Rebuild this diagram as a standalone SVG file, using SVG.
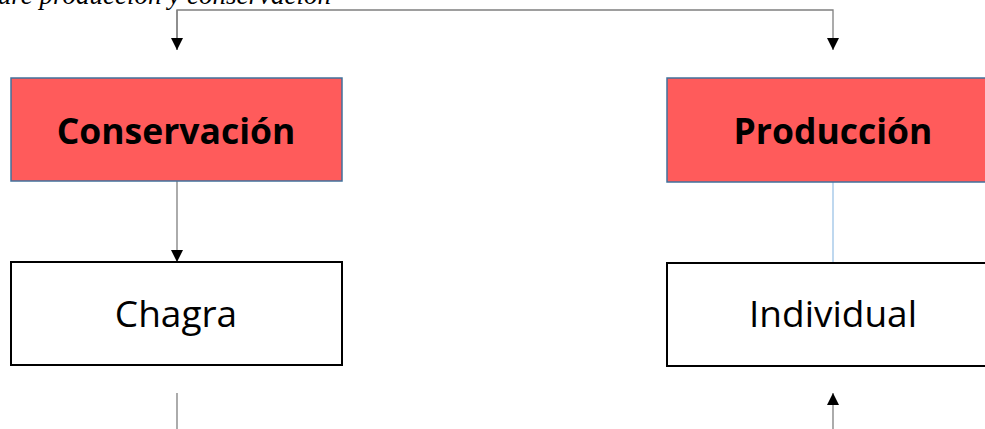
<svg xmlns="http://www.w3.org/2000/svg" width="985" height="429" viewBox="0 0 985 429">
<defs>
<marker id="ah" viewBox="0 0 10 10" refX="10" refY="5" markerWidth="12" markerHeight="12" markerUnits="userSpaceOnUse" orient="auto">
<path d="M0,0 L10,5 L0,10 Z" fill="#000"/>
</marker>
<style>
.red{fill:#FF5B5B;stroke:#41719C;stroke-width:1.5}
.wht{fill:#fff;stroke:#000;stroke-width:2}
.tb{font-family:"Open Sans","Noto Sans",sans-serif;font-weight:bold;font-size:35.5px;text-anchor:middle;fill:#000}
.tr{font-family:"Open Sans","Noto Sans",sans-serif;font-size:37px;text-anchor:middle;fill:#000}
.cn{fill:none;stroke:#7F7F7F;stroke-width:1.3}
</style>
</defs>
<rect width="985" height="429" fill="#fff"/>
<text x="331" y="4" font-family="'Liberation Serif',serif" font-style="italic" font-size="27" text-anchor="end" fill="#000">ure producción y conservación</text>
<g id="connectors">
<polyline class="cn" points="177,50 177,10 833,10 833,50" marker-end="url(#ah)"/>
<line class="cn" x1="177" y1="10" x2="177" y2="50" marker-end="url(#ah)"/>
<line class="cn" x1="177" y1="181" x2="177" y2="262" marker-end="url(#ah)"/>
<line x1="833" y1="182" x2="833" y2="263" stroke="#9DC3E6" stroke-width="1.3"/>
<line class="cn" x1="177" y1="393" x2="177" y2="429"/>
<line class="cn" x1="833" y1="429" x2="833" y2="393" marker-end="url(#ah)"/>
</g>
<g id="conservacion">
<rect class="red" x="11" y="78" width="331" height="103"/>
<text class="tb" x="176" y="144">Conservación</text>
</g>
<g id="produccion">
<rect class="red" x="667" y="78" width="340" height="104"/>
<text class="tb" x="833" y="144">Producción</text>
</g>
<g id="chagra">
<rect class="wht" x="11" y="262" width="331" height="103"/>
<text class="tr" x="176" y="327">Chagra</text>
</g>
<g id="individual">
<rect class="wht" x="667" y="263" width="340" height="103"/>
<text class="tr" x="833" y="327">Individual</text>
</g>
</svg>
